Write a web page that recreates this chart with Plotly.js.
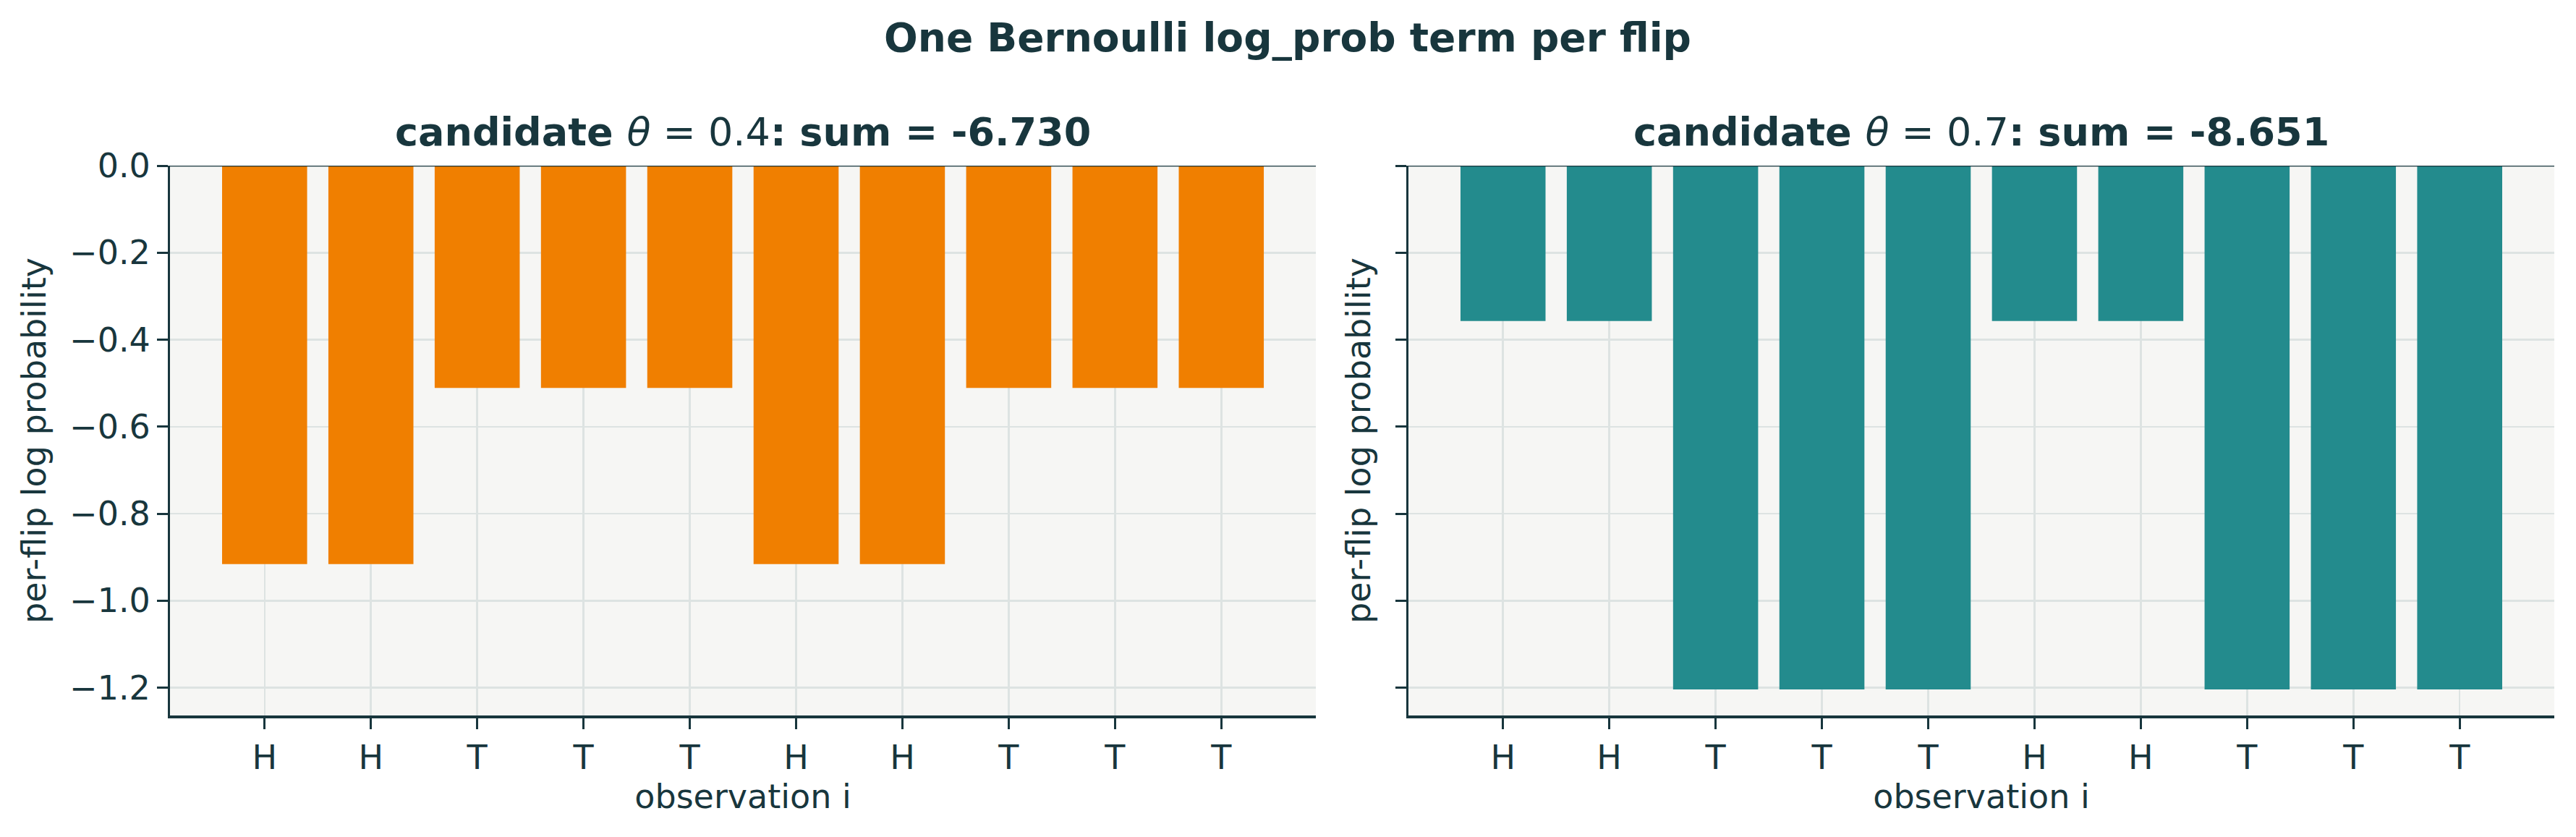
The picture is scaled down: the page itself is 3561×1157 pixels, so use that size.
<!DOCTYPE html>
<html>
<head>
<meta charset="utf-8">
<script src="https://cdn.plot.ly/plotly-3.0.1.min.js"></script>
<style>
  html, body { margin: 0; padding: 0; background: #ffffff; }
  #chart { width: 3561px; height: 1157px; }
</style>
</head>
<body>
<div id="chart"></div>
<script>
// flips and their per-flip log probabilities
const obsIndex = [0, 1, 2, 3, 4, 5, 6, 7, 8, 9];
const outcomes = ['H', 'H', 'T', 'T', 'T', 'H', 'H', 'T', 'T', 'T'];
const logpTheta04 = [-0.916, -0.916, -0.511, -0.511, -0.511, -0.916, -0.916, -0.511, -0.511, -0.511];
const logpTheta07 = [-0.357, -0.357, -1.204, -1.204, -1.204, -0.357, -0.357, -1.204, -1.204, -1.204];
const yTicks = [0, -0.2, -0.4, -0.6, -0.8, -1.0, -1.2];

const ink = '#18363d';
const gridCol = '#dde3e2';
const font = 'DejaVu Sans';

const traces = [
  {
    type: 'bar', x: obsIndex, y: logpTheta04, width: 0.8,
    marker: { color: '#f07f00', line: { width: 0 } },
    xaxis: 'x', yaxis: 'y', hoverinfo: 'skip'
  },
  {
    type: 'bar', x: obsIndex, y: logpTheta07, width: 0.8,
    marker: { color: '#238b8d', line: { width: 0 } },
    xaxis: 'x2', yaxis: 'y2', hoverinfo: 'skip'
  }
];

function xAxis(domain, anchor) {
  return {
    domain: domain, anchor: anchor,
    range: [-0.89, 9.89],
    tickmode: 'array', tickvals: obsIndex, ticktext: outcomes,
    ticks: 'outside', ticklen: 15, tickwidth: 3, tickcolor: ink,
    showline: true, linecolor: ink, linewidth: 3.5,
    showgrid: true, gridcolor: gridCol, gridwidth: 2.5,
    zeroline: false,
    tickfont: { family: font, size: 46, color: ink },
    title: { text: 'observation i', font: { family: font, size: 46, color: ink }, standoff: 10 }
  };
}

function yAxis(anchor, labels) {
  return {
    anchor: anchor,
    range: [-1.264, 0],
    tickmode: 'array', tickvals: yTicks, tickformat: '.1f',
    showticklabels: labels,
    ticks: 'outside', ticklen: 15, tickwidth: 3, tickcolor: ink,
    showline: true, linecolor: ink, linewidth: 3,
    showgrid: true, gridcolor: gridCol, gridwidth: 2.5,
    zeroline: false,
    tickfont: { family: font, size: 46, color: ink },
    title: { text: 'per-flip log probability', font: { family: font, size: 46, color: ink }, standoff: labels ? 18 : 20 }
  };
}

const layout = {
  width: 3561, height: 1157,
  margin: { l: 235, r: 30, t: 229, b: 168 },
  paper_bgcolor: '#ffffff',
  plot_bgcolor: '#f6f6f4',
  showlegend: false,
  font: { family: font, color: ink },
  xaxis: xAxis([0, 0.4806], 'y'),
  yaxis: yAxis('x', true),
  xaxis2: xAxis([0.5194, 1], 'y2'),
  yaxis2: yAxis('x2', false),
  shapes: [
    { type: 'line', xref: 'x domain', yref: 'y', x0: 0, x1: 1, y0: 0, y1: 0, line: { color: ink, width: 2.5 } },
    { type: 'line', xref: 'x2 domain', yref: 'y2', x0: 0, x1: 1, y0: 0, y1: 0, line: { color: ink, width: 2.5 } }
  ],
  annotations: [
    {
      // centred on the whole figure, not the plot area
      text: '<b>One Bernoulli log_prob term per flip</b>',
      xref: 'paper', yref: 'paper', x: 0.4689, y: 1.2329, xanchor: 'center', yanchor: 'middle',
      showarrow: false, font: { family: font, size: 55, color: ink }
    },
    {
      text: '<b>candidate </b><i>θ</i> = 0.4<b>: sum = -6.730</b>',
      xref: 'x domain', yref: 'paper', x: 0.5, y: 1.0618, xanchor: 'center', yanchor: 'middle',
      showarrow: false, font: { family: font, size: 54, color: ink }
    },
    {
      text: '<b>candidate </b><i>θ</i> = 0.7<b>: sum = -8.651</b>',
      xref: 'x2 domain', yref: 'paper', x: 0.5, y: 1.0618, xanchor: 'center', yanchor: 'middle',
      showarrow: false, font: { family: font, size: 54, color: ink }
    }
  ]
};

Plotly.newPlot('chart', traces, layout, { staticPlot: true, displayModeBar: false });
</script>
</body>
</html>
